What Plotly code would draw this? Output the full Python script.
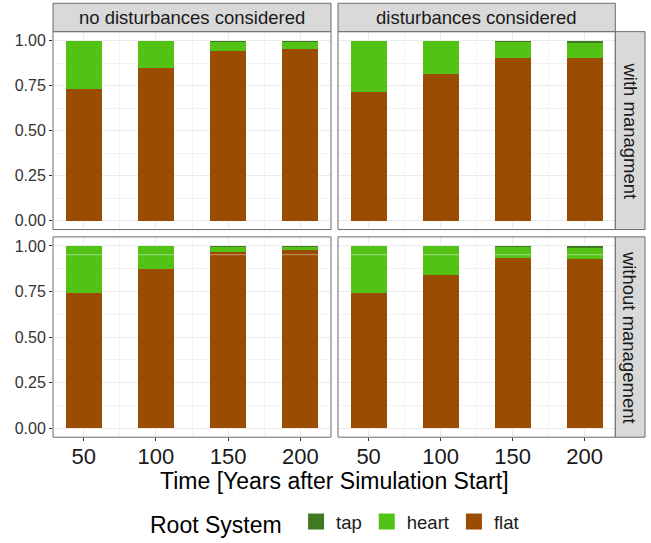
import plotly.graph_objects as go

# ---- data ----
years = [50, 100, 150, 200]
col_labels = ["no disturbances considered", "disturbances considered"]
row_labels = ["with managment", "without management"]
legend_order = ["tap", "heart", "flat"]

# panel: (row, col)
flat_nd_wm = [0.731, 0.849, 0.945, 0.956]
heart_nd_wm = [0.269, 0.151, 0.054, 0.041]
tap_nd_wm = [0.0, 0.0, 0.001, 0.003]

flat_d_wm = [0.718, 0.818, 0.908, 0.906]
heart_d_wm = [0.282, 0.182, 0.091, 0.087]
tap_d_wm = [0.0, 0.0, 0.001, 0.007]

flat_nd_wo = [0.742, 0.874, 0.965, 0.980]
heart_nd_wo = [0.258, 0.126, 0.034, 0.018]
tap_nd_wo = [0.0, 0.0, 0.001, 0.002]

flat_d_wo = [0.744, 0.844, 0.932, 0.929]
heart_d_wo = [0.256, 0.156, 0.067, 0.065]
tap_d_wo = [0.0, 0.0, 0.001, 0.006]

# faint horizontal line visible across bars in the lower panels
hline_value = 0.952

panels = [
    (0, 0, flat_nd_wm, heart_nd_wm, tap_nd_wm),
    (0, 1, flat_d_wm, heart_d_wm, tap_d_wm),
    (1, 0, flat_nd_wo, heart_nd_wo, tap_nd_wo),
    (1, 1, flat_d_wo, heart_d_wo, tap_d_wo),
]

y_ticks = [0, 0.25, 0.5, 0.75, 1.0]
y_tick_text = ["0.00", "0.25", "0.50", "0.75", "1.00"]

colors = {"tap": "#3F7A22", "heart": "#52C215", "flat": "#994C02"}
FONT = "Liberation Sans, Arial"

W, H = 651, 543
def px_x(p):
    return p / W
def px_y(p):
    return 1 - p / H

xdom = [[px_x(53), px_x(331)], [px_x(338), px_x(615.3)]]
ydom = [[px_y(230), px_y(31.7)], [px_y(438), px_y(237.3)]]

fig = go.Figure()
layout = {}
shapes = []
annotations = []

for i, (r, c, fl, ht, tp) in enumerate(panels):
    idx = i + 1
    xa = "x" if idx == 1 else f"x{idx}"
    ya = "y" if idx == 1 else f"y{idx}"
    for name, vals in (("flat", fl), ("heart", ht), ("tap", tp)):
        fig.add_trace(go.Bar(
            x=years, y=vals, name=name, width=25,
            marker=dict(color=colors[name], line=dict(width=0)),
            xaxis=xa, yaxis=ya, showlegend=False, legendgroup=name,
        ))
    xkey = "xaxis" if idx == 1 else f"xaxis{idx}"
    ykey = "yaxis" if idx == 1 else f"yaxis{idx}"
    layout[xkey] = dict(
        domain=xdom[c], anchor=ya, range=[28.75, 221.25],
        tickmode="array", tickvals=years,
        showticklabels=(r == 1), ticks=("outside" if r == 1 else ""), ticklen=3, tickcolor="#333333",
        tickfont=dict(size=22, color="#1a1a1a", family=FONT), ticklabelstandoff=-4,
        showgrid=True, gridcolor="#EBEBEB", gridwidth=1,
        minor=dict(tickvals=[75, 125, 175], showgrid=True, gridcolor="#F2F2F2", gridwidth=1),
        zeroline=False, showline=False, fixedrange=True,
    )
    layout[ykey] = dict(
        domain=ydom[r], anchor=xa, range=[-0.05, 1.05],
        tickmode="array", tickvals=y_ticks, ticktext=y_tick_text,
        showticklabels=(c == 0), ticks=("outside" if c == 0 else ""), ticklen=3, tickcolor="#333333",
        tickfont=dict(size=16, color="#333333", family=FONT),
        showgrid=True, gridcolor="#EBEBEB", gridwidth=1,
        minor=dict(tickvals=[0.125, 0.375, 0.625, 0.875], showgrid=True, gridcolor="#F2F2F2", gridwidth=1),
        zeroline=False, showline=False, fixedrange=True,
    )
    # panel border
    shapes.append(dict(type="rect", xref="paper", yref="paper",
                       x0=xdom[c][0], x1=xdom[c][1], y0=ydom[r][0], y1=ydom[r][1],
                       line=dict(color="#6b6b6b", width=1), fillcolor="rgba(0,0,0,0)", layer="above"))
    if r == 1:
        shapes.append(dict(type="line", xref=f"{xa} domain", yref=ya,
                           x0=0, x1=1, y0=hline_value, y1=hline_value,
                           line=dict(color="rgba(255,255,255,0.45)", width=1), layer="above"))

# legend entries
for name in legend_order:
    fig.add_trace(go.Scatter(
        x=[None], y=[None], mode="markers", name=name, legendgroup=name,
        marker=dict(symbol="square", size=16, color=colors[name]),
        showlegend=True,
    ))

# top strips
for c in range(2):
    y0, y1 = px_y(31.7), px_y(3.3)
    shapes.append(dict(type="rect", xref="paper", yref="paper",
                       x0=xdom[c][0], x1=xdom[c][1], y0=y0, y1=y1,
                       line=dict(color="#6b6b6b", width=1), fillcolor="#D9D9D9", layer="above"))
    annotations.append(dict(text=col_labels[c], xref="paper", yref="paper",
                            x=(xdom[c][0] + xdom[c][1]) / 2, y=(y0 + y1) / 2,
                            showarrow=False, xanchor="center", yanchor="middle",
                            font=dict(size=18.5, color="#1a1a1a", family=FONT)))
# right strips
for r in range(2):
    x0, x1 = px_x(615.3), px_x(645)
    shapes.append(dict(type="rect", xref="paper", yref="paper",
                       x0=x0, x1=x1, y0=ydom[r][0], y1=ydom[r][1],
                       line=dict(color="#6b6b6b", width=1), fillcolor="#D9D9D9", layer="above"))
    annotations.append(dict(text=row_labels[r], xref="paper", yref="paper",
                            x=(x0 + x1) / 2, y=(ydom[r][0] + ydom[r][1]) / 2,
                            showarrow=False, xanchor="center", yanchor="middle", textangle=90,
                            font=dict(size=18.5, color="#1a1a1a", family=FONT)))

# x axis title
annotations.append(dict(text="Time [Years after Simulation Start]", xref="paper", yref="paper",
                        x=(xdom[0][0] + xdom[1][1]) / 2, y=px_y(482),
                        showarrow=False, xanchor="center", yanchor="middle",
                        font=dict(size=23, color="#000000", family=FONT)))

fig.update_layout(
    **layout,
    barmode="stack",
    width=W, height=H,
    margin=dict(l=0, r=0, t=0, b=0),
    paper_bgcolor="white", plot_bgcolor="white",
    shapes=shapes, annotations=annotations,
    legend=dict(orientation="h", traceorder="normal",
                x=px_x(148), xanchor="left", y=px_y(524), yanchor="middle",
                title=dict(text="Root System ", side="left",
                           font=dict(size=23, color="#000000", family=FONT)),
                font=dict(size=18.5, color="#1a1a1a", family=FONT),
                itemsizing="trace", bgcolor="rgba(0,0,0,0)"),
    bargap=0,
)

fig.write_html("out.html")
